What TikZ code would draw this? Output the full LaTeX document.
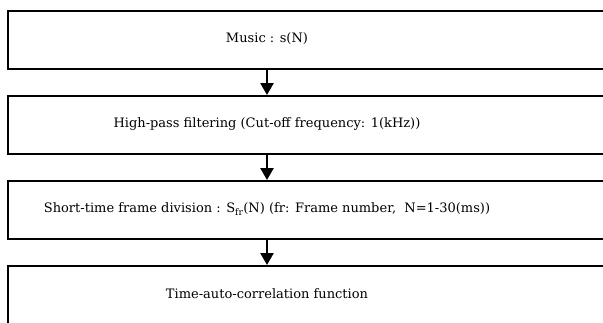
\documentclass[tikz,border=0pt]{standalone}
\usepackage{fontspec}
\setmainfont{DejaVu Serif}
\usetikzlibrary{arrows.meta}
\begin{document}
\begin{tikzpicture}[x=1pt,y=-1pt,
  stagebox/.style={draw,line width=2pt,minimum width=640pt,minimum height=58pt,inner sep=0pt,anchor=north west},
  stagetext/.style={font=\fontsize{13}{15}\selectfont,inner sep=0pt},
  flow/.style={line width=2.5pt,-{Triangle[width=13pt,length=12pt]}}]
\useasboundingbox (0,0) rectangle (603,322);
\clip (0,0) rectangle (603,322);
\node[stagebox] (b1) at (7,10) {};
\node[stagebox] (b2) at (7,95) {};
\node[stagebox] (b3) at (7,180) {};
\node[stagebox] (b4) at (7,265) {};
\node[stagetext] (t1) at (267,39) {Music : s(N)};
\node[stagetext] (t2) at (267,124) {High-pass filtering (Cut-off frequency: 1(kHz))};
\node[stagetext] (t3) at (267,209) {Short-time frame division : S\textsubscript{fr}(N) (fr: Frame number,\ \ N=1-30(ms))};
\node[stagetext] (t4) at (267,294) {Time-auto-correlation function};
\draw[flow] (b1.south -| t1) -- (b2.north -| t1);
\draw[flow] (b2.south -| t2) -- (b3.north -| t2);
\draw[flow] (b3.south -| t3) -- (b4.north -| t3);
\end{tikzpicture}
\end{document}
